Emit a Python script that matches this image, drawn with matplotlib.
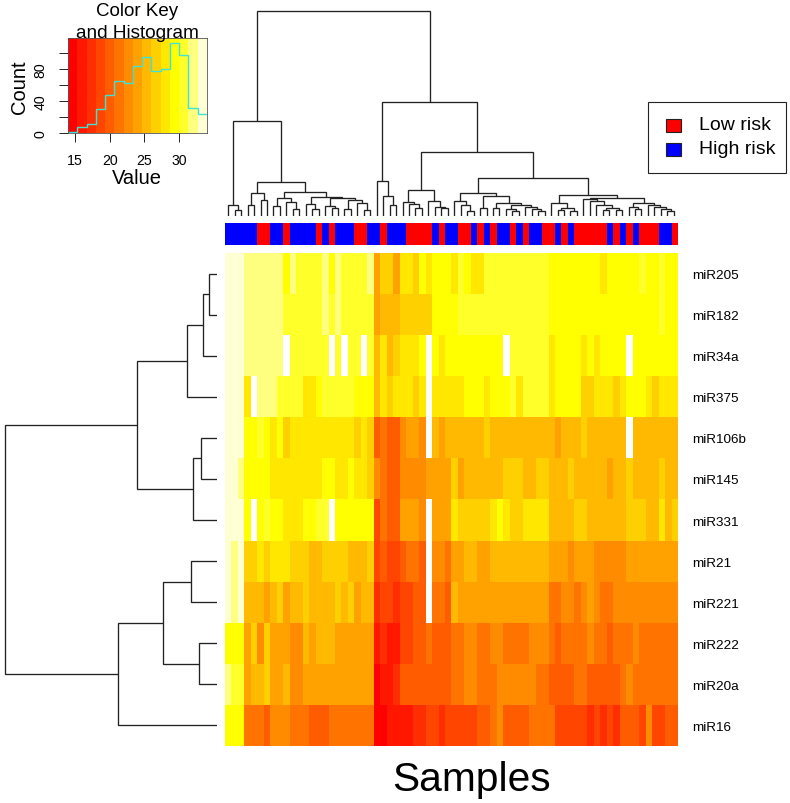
import numpy as np
import matplotlib
matplotlib.use("Agg")
import matplotlib.pyplot as plt
from matplotlib.colors import ListedColormap, BoundaryNorm
from matplotlib.patches import Rectangle

plt.rcParams['font.family'] = ['Liberation Sans', 'DejaVu Sans']

N = float('nan')
genes = ["miR205", "miR182", "miR34a", "miR375", "miR106b", "miR145",
         "miR331", "miR21", "miR221", "miR222", "miR20a", "miR16"]

miR205 = [33,33,33,32,32,32,32,32,32,29,32,31,31,31,31,32,29,32,31,31,31,31,32,24,27,27,24,28,28,27,29,28,29,29,29,
          28,31,29,28,28,31,31,31,31,31,31,31,31,31,31,29,29,29,29,29,29,29,29,28,29,29,29,29,29,31,29,29,31,29,29]
miR182 = [33,33,33,32,32,32,32,32,32,31,31,31,31,31,31,32,31,32,31,31,31,31,31,24,25,25,25,27,27,27,27,27,29,29,29,
          29,31,31,31,31,31,31,31,31,31,31,31,31,31,31,29,29,29,29,29,29,29,29,29,29,29,29,29,29,29,29,29,31,29,29]
miR34a = [33,33,33,32,32,32,32,32,32,N,31,31,31,31,31,31,N,31,N,31,31,N,31,25,28,25,27,28,28,28,29,N,29,28,29,
          29,29,29,29,29,29,29,29,N,31,31,31,31,31,31,28,29,29,29,29,28,29,28,29,29,29,29,N,29,29,29,29,29,29,29]
miR375 = [33,33,33,28,N,32,32,32,31,31,31,31,28,28,29,31,31,31,31,31,29,29,29,25,28,27,28,28,28,27,28,N,28,28,28,
          28,28,29,29,29,28,29,29,29,31,28,31,31,31,31,28,29,29,29,29,27,27,28,28,28,27,28,29,29,29,28,27,28,28,28]
miR106b = [33,33,33,29,29,31,29,28,29,27,28,28,28,28,28,28,28,28,28,28,27,28,27,20,21,20,20,23,24,24,23,N,25,24,25,
           25,25,25,25,25,27,25,25,25,25,25,25,25,25,25,25,24,25,25,25,27,25,25,25,25,25,25,N,25,25,25,25,25,25,25]
miR145 = [33,33,32,29,29,29,29,28,28,28,28,28,28,28,28,29,29,28,28,29,28,28,27,23,21,20,20,23,23,23,23,24,24,24,24,
          27,24,25,25,25,25,25,25,27,27,27,25,25,27,27,25,25,25,27,25,25,25,25,25,24,25,25,27,25,25,25,25,27,25,25]
miR331 = [33,33,33,29,N,29,31,29,29,28,28,28,29,29,31,31,N,29,29,29,29,29,29,19,21,20,20,24,24,24,23,N,24,24,24,
          28,27,27,27,27,27,28,29,28,27,27,28,28,28,28,25,25,25,25,27,27,25,25,25,25,25,25,27,27,27,25,25,28,25,27]
miR21 = [33,32,33,27,27,28,27,28,28,28,27,27,27,25,25,27,27,27,27,25,25,25,27,19,20,19,19,20,21,21,20,N,23,23,21,
         24,24,25,25,24,24,25,25,25,25,25,25,25,25,25,24,24,24,23,24,24,24,23,23,23,23,23,24,24,24,24,24,24,24,24]
miR221 = [33,32,33,25,25,25,24,25,27,24,25,25,27,25,25,25,25,27,25,27,24,25,25,17,19,19,17,19,19,20,20,N,21,21,20,
          25,24,24,24,24,24,24,24,24,24,24,24,24,24,24,21,21,23,23,21,23,24,23,21,21,23,23,23,23,23,23,23,23,23,23]
miR222 = [29,29,29,24,27,23,27,24,24,24,23,23,25,24,25,25,25,24,24,24,24,24,24,16,17,16,16,19,19,20,20,21,20,20,20,
          21,21,23,23,21,21,23,23,21,21,21,21,23,23,23,21,20,21,21,21,21,23,21,21,20,21,21,21,23,21,21,21,21,21,21]
miR20a = [32,31,31,24,25,25,27,24,24,25,23,23,24,24,24,24,24,24,24,24,24,24,24,15,16,16,17,20,20,20,20,20,20,20,20,
          21,21,23,23,21,21,21,23,23,23,23,23,23,21,21,20,20,20,20,21,21,20,20,20,20,20,21,23,21,21,21,21,21,21,21]
miR16 = [29,29,29,21,21,21,20,23,23,23,21,21,21,20,20,20,21,21,21,21,21,21,21,15,15,16,16,16,16,17,17,19,19,17,19,
         19,19,19,19,20,20,21,23,20,20,20,20,21,21,21,21,19,19,19,19,19,17,19,17,19,17,20,20,20,19,23,19,19,20,20]

risk_groups = ["H","H","H","H","H","L","L","H","H","L","H","H","H","H","L","H","L","H","H","H","L","L","H","H","L",
               "H","H","H","L","L","L","L","H","L","H","H","L","L","H","L","H","L","H","H","L","H","L","H","H","L",
               "L","H","L","H","L","L","L","L","L","H","L","H","L","H","L","L","L","H","H","L"]

# Color key histogram
key_breaks = np.linspace(14, 34, 16)
hist_counts = [2, 8, 12, 30, 48, 65, 62, 84, 95, 77, 80, 112, 97, 31, 24]

# Nested merges: (height, left, right); integers are leaf positions
col_tree = (205,
    (95,
        (11, 0, (6, 1, 2)),
        (34,
            (23, (11, 3, 4), (16, 5, 6)),
            (24,
                (18, (10, 7, 8), (14, 9, (7, 10, 11))),
                (19,
                    (12, 12, (7, 13, 14)),
                    (18,
                        (10, 15, (8, 16, 17)),
                        (16, (7, 18, 19), (13, 20, (6, 21, 22)))))))),
    (114,
        (35, 23, (20, 24, (11, 25, 26))),
        (64,
            (26,
                (14, 27, (12, 28, (8, 29, 30))),
                (15, 31, (9, 32, (8, 33, 34)))),
            (38,
                (23,
                    (15, 35, (11, 36, (5, 37, 38))),
                    (20,
                        (8, 39, 40),
                        (13,
                            (8, 41, 42),
                            (11,
                                (7, 43, (5, 44, 45)),
                                (9, 46, (7, 47, (5, 48, 49))))))),
                (21,
                    (13, 50, (8, (6, 51, 52), (5, 53, 54))),
                    (18,
                        (17, 55, (15, 56, (11, 57, (8, (6, 58, 59), (6, 60, 61))))),
                        (13,
                            (9, 62, (7, 63, 64)),
                            (11, 65, (9, 66, (7, 67, (5, 68, 69)))))))))))

row_tree = (212,
    (80,
        (30, (14, (8, 0, 1), 2), 3),
        (24, (16, 4, 5), 6)),
    (99,
        (54, (26, 7, 8), (18, 9, 10)),
        11))

W, H = 790, 804
fig = plt.figure(figsize=(W / 100, H / 100), dpi=100)


def px_axes(x0, y0, x1, y1, **kw):
    return fig.add_axes([x0 / W, 1 - y1 / H, (x1 - x0) / W, (y1 - y0) / H], **kw)


def r_heat_colors(n):
    j = n // 4
    i = n - j
    g = np.linspace(0, 1, i)
    cols = [(1.0, v, 0.0) for v in g]
    sats = np.linspace(1 - 1 / (2 * j), 1 / (2 * j), j)
    cols += [(1.0, 1.0, 1 - s) for s in sats]
    return cols


heat = r_heat_colors(15)
cmap = ListedColormap(heat)
cmap.set_bad("white")
norm = BoundaryNorm(key_breaks, cmap.N)

# main heatmap
matrix = np.array([miR205, miR182, miR34a, miR375, miR106b, miR145,
                   miR331, miR21, miR221, miR222, miR20a, miR16], dtype=float)
n_rows, n_cols = matrix.shape
ax = px_axes(225, 254, 677, 747)
ax.imshow(matrix, aspect="auto", cmap=cmap, norm=norm, interpolation="nearest",
          extent=(0, n_cols, n_rows, 0))
ax.set_xticks([])
ax.yaxis.tick_right()
ax.set_yticks(np.arange(n_rows) + 0.5)
ax.set_yticklabels(genes, fontsize=9.7)
ax.tick_params(axis="y", length=0, pad=11)
for s in ax.spines.values():
    s.set_visible(False)

# risk side bar
sb = px_axes(225, 224, 677, 246)
risk_colors = {"L": "#FF0000", "H": "#0000FF"}
side_rgb = np.array([[matplotlib.colors.to_rgb(risk_colors[g]) for g in risk_groups]])
sb.imshow(side_rgb, aspect="auto", interpolation="nearest", extent=(0, n_cols, 1, 0))
sb.axis("off")


def draw_tree(node, axis, horizontal):
    """Return (position, height) of node after drawing it."""
    if isinstance(node, int):
        return node + 0.5, 0
    h, left, right = node
    p1, h1 = draw_tree(left, axis, horizontal)
    p2, h2 = draw_tree(right, axis, horizontal)
    ps = [p1, p1, p2, p2]
    hs = [h1, h, h, h2]
    if horizontal:
        axis.plot(ps, hs, color="#222222", lw=0.95, solid_joinstyle="miter", solid_capstyle="butt")
    else:
        axis.plot(hs, ps, color="#222222", lw=0.95, solid_joinstyle="miter", solid_capstyle="butt")
    return (p1 + p2) / 2, h


# column dendrogram
cd = px_axes(225, 5, 677, 217)
draw_tree(col_tree, cd, True)
cd.set_xlim(0, n_cols)
cd.set_ylim(0, 212)
cd.axis("off")

# row dendrogram
rd = px_axes(0, 254, 217, 747)
draw_tree(row_tree, rd, False)
rd.set_xlim(217, 0)
rd.set_ylim(n_rows, 0)
rd.axis("off")

# color key with histogram
kx = px_axes(68, 39.3, 207, 134.3)
key_mid = (key_breaks[:-1] + key_breaks[1:]) / 2
kx.imshow(key_mid[np.newaxis, :], aspect="auto", cmap=cmap, norm=norm, interpolation="nearest",
          extent=(key_breaks[0], key_breaks[-1], 0, 118))
kx.stairs(hist_counts, key_breaks, color="#3FE3D3", lw=1.0, baseline=None)
kx.set_xlim(key_breaks[0], key_breaks[-1])
kx.set_ylim(0, 118)
kx.set_xticks([15, 20, 25, 30])
kx.set_yticks([0, 20, 40, 60, 80, 100])
kx.set_yticklabels(["0", "", "40", "", "80", ""], rotation=90, va="center", fontsize=10.2)
kx.tick_params(axis="both", length=6.5, width=0.7, color="#222222", labelsize=10.2)
kx.tick_params(axis="x", pad=8)
kx.tick_params(axis="y", pad=8)
for s in kx.spines.values():
    s.set_linewidth(0.6)
    s.set_color("#555555")
fig.text(137 / W, 1 - 12 / H, "Color Key", ha="center", va="center", fontsize=13.5)
fig.text(137 / W, 1 - 33 / H, "and Histogram", ha="center", va="center", fontsize=13.7)
fig.text(137 / W, 1 - 178.5 / H, "Value", ha="center", va="center", fontsize=14.5)
fig.text(20 / W, 1 - 87 / H, "Count", ha="center", va="center", rotation=90, fontsize=14.5)

# x label
fig.text(472 / W, 1 - 780 / H, "Samples", ha="center", va="center", fontsize=29.3)

# legend box
ov = fig.add_axes([0, 0, 1, 1], facecolor="none")
ov.set_xlim(0, W)
ov.set_ylim(H, 0)
ov.axis("off")
ov.add_patch(Rectangle((647.5, 102.5), 138, 71, fill=False, ec="#222222", lw=0.8))
ov.add_patch(Rectangle((665.5, 119.5), 15, 13, fc="#FF0000", ec="#222222", lw=0.8))
ov.add_patch(Rectangle((665.5, 143.5), 15, 13, fc="#0000FF", ec="#222222", lw=0.8))
ov.text(699, 125.5, "Low risk", va="center", ha="left", fontsize=14)
ov.text(699, 150, "High risk", va="center", ha="left", fontsize=14)

fig.savefig("out.png", dpi=100, facecolor="white")
